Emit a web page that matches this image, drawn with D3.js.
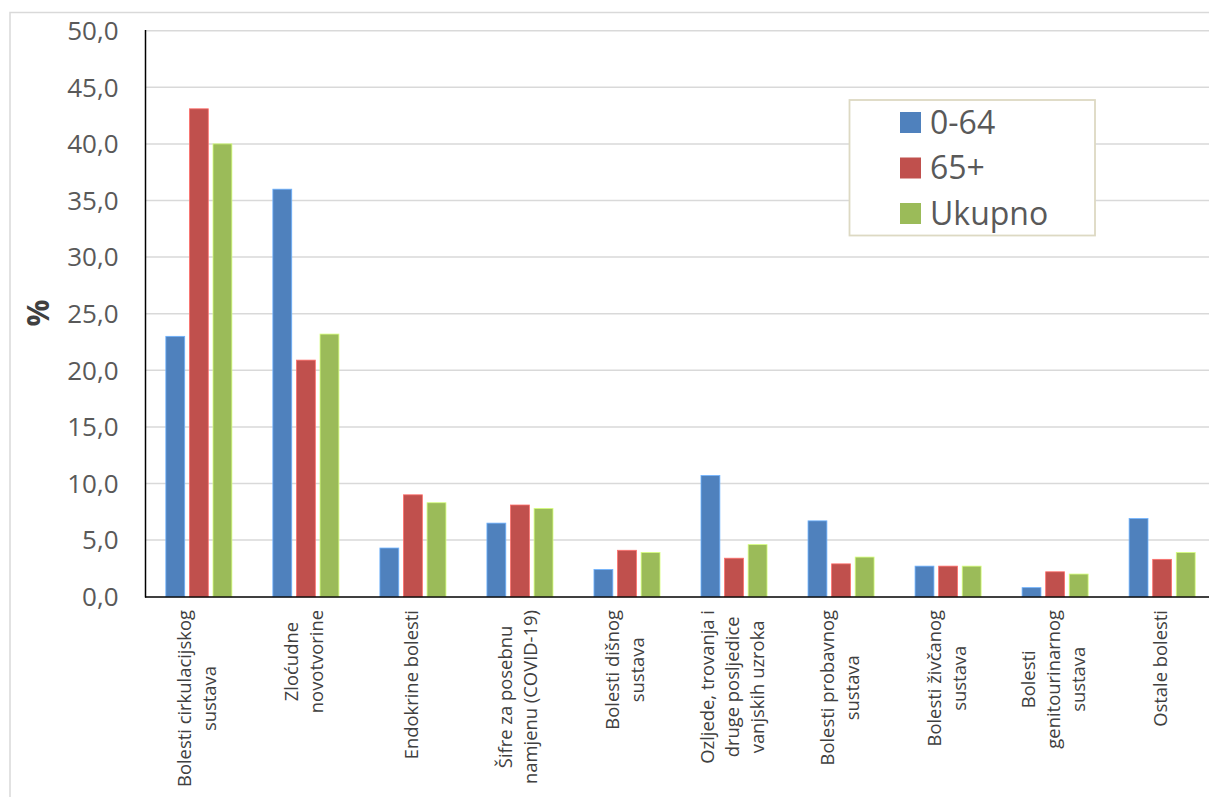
<!DOCTYPE html>
<html>

<head>
    <meta charset="utf-8">
    <title>Umrli prema skupinama bolesti</title>
    <script src="https://d3js.org/d3.v7.min.js" charset="utf-8"></script>
    <style>
        html,
        body {
            margin: 0;
            padding: 0;
            background: #fff;
        }

        svg text {
            font-family: "Open Sans", sans-serif;
        }
    </style>
</head>

<body>
    <div id="chart"></div>
    <script>
        // data
        const categories = [
            ["Bolesti cirkulacijskog", "sustava"],
            ["Zloćudne", "novotvorine"],
            ["Endokrine bolesti"],
            ["Šifre za posebnu", "namjenu (COVID-19)"],
            ["Bolesti dišnog", "sustava"],
            ["Ozljede, trovanja i", "druge posljedice", "vanjskih uzroka"],
            ["Bolesti probavnog", "sustava"],
            ["Bolesti živčanog", "sustava"],
            ["Bolesti", "genitourinarnog", "sustava"],
            ["Ostale bolesti"]
        ];
        const seriesNames = ["0-64", "65+", "Ukupno"];
        const values0to64 = [23.0, 36.0, 4.3, 6.5, 2.4, 10.7, 6.7, 2.7, 0.8, 6.9];
        const values65plus = [43.1, 20.9, 9.0, 8.1, 4.1, 3.4, 2.9, 2.7, 2.2, 3.3];
        const valuesTotal = [40.0, 23.2, 8.3, 7.8, 3.9, 4.6, 3.5, 2.7, 2.0, 3.9];
        const yTicks = [0, 5, 10, 15, 20, 25, 30, 35, 40, 45, 50];
        const colors = ["#4F81BD", "#C0504D", "#9BBB59"];

        const allSeries = [values0to64, values65plus, valuesTotal];

        const width = 1209;
        const height = 797;

        const svg = d3.select("#chart")
            .append("svg")
            .attr("width", width)
            .attr("height", height);

        // chart border (only top and left are inside the picture)
        svg.append("path")
            .attr("d", "M10,797 L10,12.5 L1209,12.5")
            .attr("fill", "none")
            .attr("stroke", "#D9D9D9")
            .attr("stroke-width", 1.5);

        // scales
        const x0 = d3.scaleBand()
            .domain(d3.range(categories.length))
            .range([145.5, 1215.5])
            .paddingInner(0.383)
            .paddingOuter(0.19);

        const x1 = d3.scaleBand()
            .domain(d3.range(seriesNames.length))
            .range([0, x0.bandwidth()])
            .paddingInner(0.2);

        const y = d3.scaleLinear()
            .domain([0, 50])
            .range([596.7, 30.7]);

        // gridlines
        svg.append("g")
            .selectAll("line")
            .data(yTicks.filter(d => d > 0))
            .enter()
            .append("line")
            .attr("x1", 145.5)
            .attr("x2", width)
            .attr("y1", d => y(d))
            .attr("y2", d => y(d))
            .attr("stroke", "#D9D9D9")
            .attr("stroke-width", 1.5);

        // y tick labels
        const fmt = d => d.toFixed(1).replace(".", ",");
        svg.append("g")
            .selectAll("text")
            .data(yTicks)
            .enter()
            .append("text")
            .attr("x", 118.5)
            .attr("y", d => y(d))
            .attr("dy", "0.36em")
            .attr("text-anchor", "end")
            .attr("font-size", 26)
            .attr("fill", "#595959")
            .text(fmt);

        // y axis title
        svg.append("text")
            .attr("transform", "translate(38,313) rotate(-90)")
            .attr("text-anchor", "middle")
            .attr("dy", "0.36em")
            .attr("font-size", 30)
            .attr("font-weight", "bold")
            .attr("fill", "#404040")
            .text("%");

        // bars
        const groups = svg.append("g")
            .selectAll("g")
            .data(categories.map((c, i) => i))
            .enter()
            .append("g")
            .attr("transform", i => "translate(" + x0(i) + ",0)");

        groups.selectAll("rect")
            .data(i => allSeries.map((s, k) => ({ k: k, v: s[i] })))
            .enter()
            .append("rect")
            .attr("x", d => x1(d.k))
            .attr("width", x1.bandwidth())
            .attr("y", d => y(d.v))
            .attr("height", d => y(0) - y(d.v))
            .attr("fill", d => colors[d.k])
            .attr("stroke", d => d3.color(colors[d.k]).brighter(0.9))
            .attr("stroke-width", 0.8);

        // axis lines
        svg.append("line")
            .attr("x1", 145.5).attr("x2", 145.5)
            .attr("y1", 30).attr("y2", 597.5)
            .attr("stroke", "#000").attr("stroke-width", 1.5);
        svg.append("line")
            .attr("x1", 145).attr("x2", width)
            .attr("y1", 597).attr("y2", 597)
            .attr("stroke", "#000").attr("stroke-width", 1.6);

        // category labels, rotated, lines centred on each other
        const lineGap = 25;
        categories.forEach(function (lines, i) {
            const cx = x0(i) + x0.bandwidth() / 2;
            const g = svg.append("g")
                .attr("transform", "translate(" + cx + ",610) rotate(-90)");
            const texts = lines.map(function (line, j) {
                return g.append("text")
                    .attr("y", (j - (lines.length - 1) / 2) * lineGap + 5)
                    .attr("text-anchor", "middle")
                    .attr("font-size", 18.4)
                    .attr("fill", "#404040")
                    .text(line);
            });
            const maxW = d3.max(texts, t => t.node().getComputedTextLength());
            texts.forEach(t => t.attr("x", -maxW / 2));
        });

        // legend
        const legend = svg.append("g");
        legend.append("rect")
            .attr("x", 849.5)
            .attr("y", 100)
            .attr("width", 245.5)
            .attr("height", 135.5)
            .attr("fill", "#fff")
            .attr("stroke", "#DDD9C3")
            .attr("stroke-width", 1.8);

        seriesNames.forEach(function (name, k) {
            const cy = 122.5 + k * 45.5;
            legend.append("rect")
                .attr("x", 900)
                .attr("y", cy - 10.5)
                .attr("width", 21)
                .attr("height", 21)
                .attr("fill", colors[k]);
            legend.append("text")
                .attr("x", 930)
                .attr("y", cy + 11)
                .attr("font-size", 32)
                .attr("fill", "#595959")
                .text(name);
        });
    </script>
</body>

</html>
